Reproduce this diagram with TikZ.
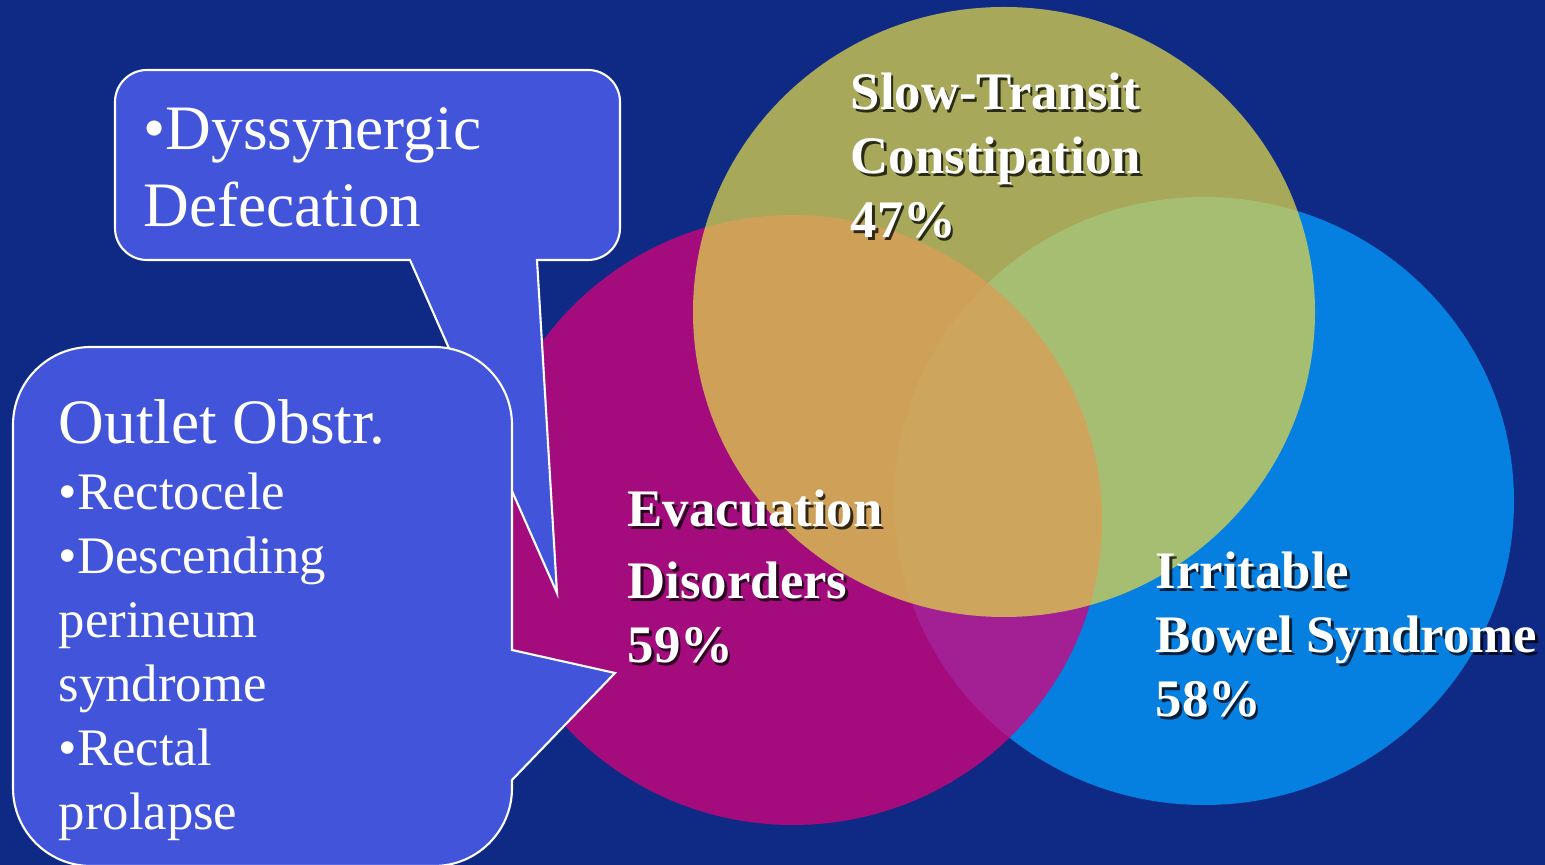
\documentclass[tikz,border=0pt]{standalone}
\usepackage{fontspec}
\setmainfont{Liberation Serif}

\definecolor{bgnavy}{RGB}{14,42,133}
\definecolor{calloutblue}{RGB}{65,84,218}
\definecolor{slowolive}{RGB}{222,212,75}
\definecolor{evacmagenta}{RGB}{210,4,124}
\definecolor{ibsblue}{RGB}{5,127,224}

\tikzset{
  balloon/.style={fill=calloutblue, draw=white, line width=0.6pt},
  venntext/.style={text=white, font=\bfseries\fontsize{15}{18.2}\selectfont,
    align=left, inner sep=0pt, anchor=base west},
  venshadow/.style={venntext, text=black, opacity=0.75, xshift=0.7pt, yshift=-0.7pt},
  balloontext/.style={text=white, align=left, inner sep=0pt, anchor=base west}
}

% label with drop shadow (placed at the baseline of its last line)
\newcommand{\vennlabel}[3]{%
  \node[venshadow] at #2 {#3};
  \node[venntext] (#1) at #2 {#3};
}

\begin{document}
\begin{tikzpicture}[x=0.01cm, y=-0.01cm]
  \useasboundingbox (0,0) rectangle (1545,865);
  % background
  \fill[bgnavy] (0,0) rectangle (1545,865);

  % circles
  \fill[ibsblue] (1204,501) ellipse [x radius=310, y radius=304];
  \fill[evacmagenta, opacity=0.77] (793,520) ellipse [x radius=309, y radius=305];
  \fill[slowolive, opacity=0.74] (1004,312) ellipse [x radius=311, y radius=305];

  % circle labels
  \vennlabel{slow}{(850,238)}{Slow-Transit\\Constipation\\47\%}
  \vennlabel{evac}{(627,663)}{Evacuation\\[2.3pt]Disorders\\59\%}
  \vennlabel{ibs}{(1155,717)}{Irritable\\Bowel Syndrome\\58\%}

  % callout: dyssynergic defecation
  \draw[balloon] (147,70) -- (588,70)
    arc[start angle=-90, end angle=0, radius=32] -- (620,228)
    arc[start angle=0, end angle=90, radius=32] -- (537,260)
    -- (557,593) -- (410,260) -- (147,260)
    arc[start angle=90, end angle=180, radius=32] -- (115,102)
    arc[start angle=180, end angle=270, radius=32] -- cycle;
  \node[balloontext, font=\fontsize{18}{21.9}\selectfont] (dyss) at (143,227)
    {•Dyssynergic\\Defecation};

  % callout: outlet obstruction
  \draw[balloon] (91,347) -- (434,347)
    arc[start angle=-90, end angle=0, radius=78] -- (512,650)
    -- (615,673) -- (512,780) -- (512,788)
    arc[start angle=0, end angle=90, radius=78] -- (91,866)
    arc[start angle=90, end angle=180, radius=78] -- (13,425)
    arc[start angle=180, end angle=270, radius=78] -- cycle;
  \node[balloontext, font=\fontsize{18}{21.9}\selectfont] (outlet) at (58,444)
    {Outlet Obstr.};
  \node[balloontext, font=\fontsize{15}{18.2}\selectfont] (outletlist) at (58,830)
    {•Rectocele\\•Descending\\perineum\\syndrome\\•Rectal\\prolapse};
\end{tikzpicture}
\end{document}
